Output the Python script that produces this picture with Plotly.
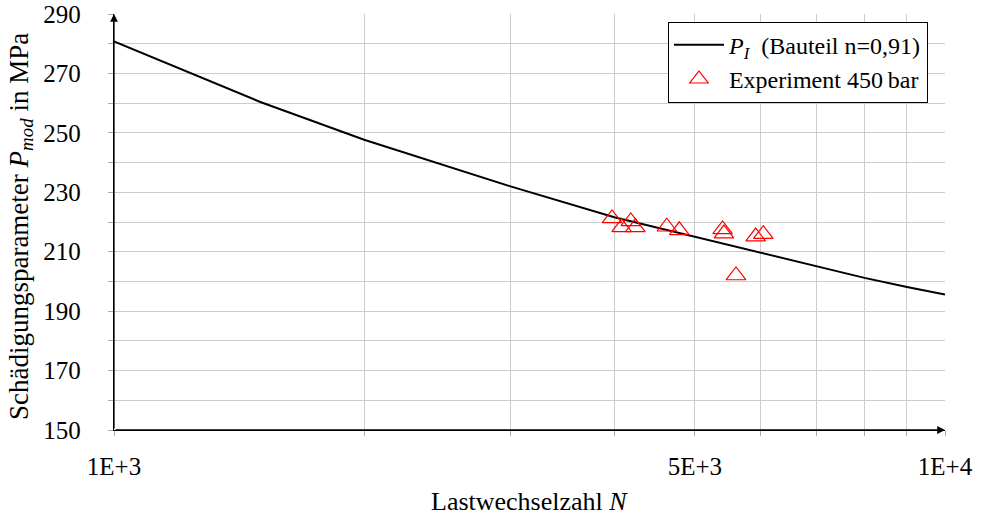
import plotly.graph_objects as go

# Curve P_I (Bauteil n=0,91)
curve_N = [1000, 1500, 2000, 3000, 4000, 5000, 6000, 7000, 8000, 9000, 10000]
curve_P = [280.8, 260.4, 247.7, 232.0, 221.6, 215.0, 209.6, 205.1, 201.2, 198.1, 195.6]

# Experiment 450 bar
exp_N = [3975, 4082, 4187, 4240, 4626, 4789, 5400, 5420, 5604, 5918, 6044]
exp_P = [221.2, 218.2, 220.2, 218.2, 218.4, 217.2, 217.5, 216.1, 202.0, 215.1, 215.9]

x_tickvals = [1000, 2000, 3000, 4000, 5000, 6000, 7000, 8000, 9000, 10000]
x_ticktext = ["1E+3", "", "", "", "5E+3", "", "", "", "", "1E+4"]
y_tickvals = list(range(150, 291, 10))
y_ticktext = [str(v) if (v - 150) % 20 == 0 else "" for v in y_tickvals]

FONT = "Liberation Serif"

fig = go.Figure()
fig.add_trace(go.Scatter(
    x=curve_N, y=curve_P, mode="lines",
    line=dict(color="black", width=2),
    name="<i>P</i><sub><i>I</i></sub>  (Bauteil n=0,91)",
))
fig.add_trace(go.Scatter(
    x=exp_N, y=exp_P, mode="markers",
    marker=dict(symbol="triangle-up-open", size=17, color="#ff0000",
                line=dict(width=1.2, color="#ff0000")),
    name="Experiment 450\u2009bar",
))

fig.update_layout(
    width=986, height=517,
    margin=dict(l=114, r=41, t=14, b=87, autoexpand=False),
    plot_bgcolor="white", paper_bgcolor="white",
    font=dict(family=FONT, size=25, color="black"),
    showlegend=True,
    legend=dict(
        x=0.9795, y=0.9815, xanchor="right", yanchor="top",
        bgcolor="white", bordercolor="black", borderwidth=1,
        font=dict(family=FONT, size=24, color="black"),
        tracegroupgap=0, itemwidth=50,
    ),
    xaxis=dict(
        type="log", range=[3, 4], automargin=False,
        tickvals=x_tickvals, ticktext=x_ticktext,
        showgrid=True, gridcolor="#cccccc", gridwidth=1,
        showline=True, linecolor="black", linewidth=1.3,
        ticks="outside", ticklen=5, tickcolor="#aaaaaa", tickwidth=1,
        ticklabelstandoff=9,
        zeroline=False,
    ),
    yaxis=dict(
        range=[150, 290], automargin=False,
        tickvals=y_tickvals, ticktext=y_ticktext,
        showgrid=True, gridcolor="#cccccc", gridwidth=1,
        showline=True, linecolor="black", linewidth=1.3,
        ticks="outside", ticklen=5, tickcolor="#aaaaaa", tickwidth=1,
        ticklabelstandoff=22,
        zeroline=False,
    ),
    annotations=[
        dict(x=1.0, y=0, xref="x domain", yref="y domain", ax=0, ay=0,
             axref="x domain", ayref="y domain", text="", showarrow=True,
             arrowhead=2, arrowsize=1.2, arrowwidth=1.3, arrowcolor="black"),
        dict(x=0, y=1.0, xref="x domain", yref="y domain", ax=0, ay=0,
             axref="x domain", ayref="y domain", text="", showarrow=True,
             arrowhead=2, arrowsize=1.2, arrowwidth=1.3, arrowcolor="black"),
        dict(x=0.5, y=-0.172, xref="paper", yref="paper",
             text="Lastwechselzahl <i>N</i>", showarrow=False,
             xanchor="center", yanchor="middle",
             font=dict(family=FONT, size=26, color="black")),
        dict(x=-0.112, y=0.49, xref="paper", yref="paper",
             text="Schädigungsparameter <i>P</i><sub><i>mod</i></sub> in MPa",
             showarrow=False, textangle=-90,
             xanchor="center", yanchor="middle",
             font=dict(family=FONT, size=27, color="black")),
    ],
)

fig.write_html("out.html", config={"displayModeBar": False},
               post_script="document.body.style.margin='0';")
